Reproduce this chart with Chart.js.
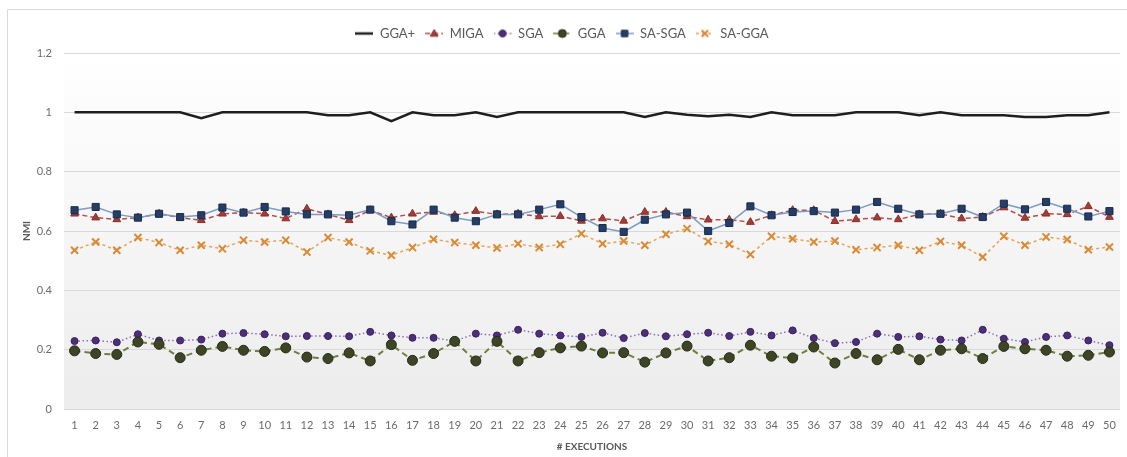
<!DOCTYPE html>
<html>
<head>
<meta charset="utf-8">
<script src="https://cdn.jsdelivr.net/npm/chart.js@4.4.1/dist/chart.umd.min.js"></script>
<style>
  html, body { margin: 0; padding: 0; background: #ffffff; }
  #wrap { width: 1127px; height: 457px; }
</style>
</head>
<body>
<div id="wrap"><canvas id="c" width="1127" height="457"></canvas></div>
<script>
const executions = Array.from({length: 50}, (_, i) => String(i + 1));
const yTicks = [0, 0.2, 0.4, 0.6, 0.8, 1, 1.2];

const ggaPlus = [1.0,1.0,1.0,1.0,1.0,1.0,0.98,1.0,1.0,1.0,
                 1.0,1.0,0.99,0.99,1.0,0.97,1.0,0.99,0.99,1.0,
                 0.984,1.0,1.0,1.0,1.0,1.0,1.0,0.984,1.0,0.992,
                 0.987,0.992,0.984,1.0,0.99,0.99,0.99,1.0,1.0,1.0,
                 0.99,1.0,0.99,0.99,0.99,0.984,0.984,0.99,0.99,1.0];
const miga = [0.658,0.645,0.639,0.645,0.658,0.645,0.636,0.658,0.662,0.658,
              0.642,0.675,0.656,0.636,0.670,0.645,0.658,0.664,0.653,0.667,
              0.656,0.658,0.649,0.650,0.634,0.642,0.634,0.664,0.664,0.649,
              0.638,0.638,0.630,0.653,0.670,0.670,0.633,0.639,0.645,0.639,
              0.656,0.658,0.642,0.647,0.679,0.644,0.658,0.656,0.683,0.647];
const sga = [0.229,0.231,0.225,0.252,0.231,0.231,0.234,0.254,0.256,0.252,
             0.245,0.246,0.246,0.245,0.260,0.248,0.240,0.240,0.229,0.254,
             0.248,0.267,0.254,0.248,0.243,0.257,0.239,0.256,0.245,0.252,
             0.257,0.246,0.260,0.248,0.265,0.239,0.222,0.226,0.254,0.243,
             0.245,0.234,0.231,0.267,0.237,0.226,0.243,0.248,0.231,0.215];
const gga = [0.196,0.187,0.184,0.226,0.218,0.173,0.198,0.211,0.198,0.194,
             0.206,0.175,0.170,0.189,0.162,0.217,0.164,0.187,0.228,0.162,
             0.228,0.162,0.190,0.206,0.212,0.189,0.190,0.158,0.189,0.212,
             0.162,0.173,0.215,0.178,0.172,0.209,0.155,0.187,0.166,0.201,
             0.166,0.198,0.203,0.170,0.211,0.203,0.198,0.178,0.181,0.192];
const saSga = [0.670,0.681,0.656,0.645,0.658,0.647,0.653,0.679,0.662,0.681,
               0.666,0.656,0.656,0.653,0.672,0.633,0.622,0.672,0.645,0.633,
               0.656,0.656,0.672,0.690,0.647,0.610,0.597,0.638,0.656,0.662,
               0.600,0.627,0.683,0.653,0.664,0.667,0.662,0.672,0.698,0.675,
               0.656,0.658,0.675,0.647,0.692,0.673,0.698,0.675,0.649,0.667];
const saGga = [0.535,0.563,0.535,0.578,0.561,0.535,0.552,0.540,0.569,0.563,
               0.569,0.529,0.578,0.563,0.533,0.518,0.544,0.572,0.561,0.552,
               0.543,0.557,0.544,0.555,0.591,0.557,0.566,0.552,0.589,0.608,
               0.565,0.555,0.521,0.582,0.574,0.563,0.566,0.537,0.544,0.552,
               0.535,0.565,0.552,0.512,0.582,0.552,0.580,0.571,0.537,0.546];

const FONT = "Lato, 'Open Sans', sans-serif";

const framePlugin = {
  id: 'frame',
  beforeLayout(chart) {
    const lg = chart.legend;
    if (lg && !lg._fixedFit) {
      const orig = lg.fit.bind(lg);
      lg.fit = function () { orig(); this.height = 36; };
      lg._fixedFit = true;
    }
  },
  beforeDraw(chart) {
    const ctx = chart.ctx;
    const a = chart.chartArea;
    ctx.save();
    ctx.fillStyle = '#ffffff';
    ctx.fillRect(0, 0, chart.width, chart.height);
    ctx.strokeStyle = '#d9d9d9';
    ctx.lineWidth = 1;
    ctx.beginPath();
    ctx.moveTo(7.5, chart.height);
    ctx.lineTo(7.5, 9.5);
    ctx.lineTo(chart.width, 9.5);
    ctx.stroke();
    const g = ctx.createLinearGradient(0, a.top, 0, a.bottom);
    g.addColorStop(0, '#ffffff');
    g.addColorStop(1, '#ececec');
    ctx.fillStyle = g;
    ctx.fillRect(a.left, a.top, a.right - a.left, a.bottom - a.top);
    ctx.restore();
  }
};

const datasets = [
  { label: 'GGA+', data: ggaPlus, borderColor: '#1e1e1e', backgroundColor: '#1e1e1e',
    borderWidth: 2.5, pointRadius: 0, pointStyle: 'line', order: 6 },
  { label: 'MIGA', data: miga, borderColor: '#b4504b', backgroundColor: '#9c3a36',
    borderWidth: 1.5, borderDash: [5, 3], pointStyle: 'triangle', pointRadius: 4.5,
    pointBackgroundColor: '#a23c38', pointBorderColor: '#8a302c', pointBorderWidth: 1, order: 5 },
  { label: 'SGA', data: sga, borderColor: '#8a6fb4', backgroundColor: '#4b2f78',
    borderWidth: 1.5, borderDash: [1.5, 2.5], pointStyle: 'circle', pointRadius: 3.5,
    pointBackgroundColor: '#4b2f78', pointBorderColor: '#3a2260', pointBorderWidth: 1, order: 4 },
  { label: 'GGA', data: gga, borderColor: '#6f7d3e', backgroundColor: '#3d4526',
    borderWidth: 2, borderDash: [6, 4], pointStyle: 'circle', pointRadius: 5,
    pointBackgroundColor: '#3d4526', pointBorderColor: '#262c15', pointBorderWidth: 1, order: 3 },
  { label: 'SA-SGA', data: saSga, borderColor: '#7e9cc2', backgroundColor: '#263d66',
    borderWidth: 1.5, pointStyle: 'rect', pointRadius: 5,
    pointBackgroundColor: '#263d66', pointBorderColor: '#1a2b4a', pointBorderWidth: 1, order: 2 },
  { label: 'SA-GGA', data: saGga, borderColor: '#e6a35a', backgroundColor: '#e0953f',
    borderWidth: 1.5, borderDash: [3, 3], pointStyle: 'crossRot', pointRadius: 5,
    pointBackgroundColor: '#e0953f', pointBorderColor: '#d98a35', pointBorderWidth: 2, order: 1 }
];

// Small legend swatches: the series' line style with its marker in the middle.
function legendSwatch(ds) {
  const w = 18, h = 12;
  const cv = document.createElement('canvas');
  cv.width = w; cv.height = h;
  const c = cv.getContext('2d');
  c.strokeStyle = ds.borderColor;
  c.lineWidth = ds.pointStyle === 'line' ? 2.5 : 1.5;
  c.setLineDash(ds.pointStyle === 'line' ? [] : (ds.borderDash || []));
  c.beginPath();
  c.moveTo(0, h / 2);
  c.lineTo(w, h / 2);
  c.stroke();
  c.setLineDash([]);
  if (ds.pointStyle !== 'line') {
    c.fillStyle = ds.pointBackgroundColor;
    c.strokeStyle = ds.pointBorderColor;
    c.lineWidth = ds.pointBorderWidth;
    c.beginPath();
    const r = Math.min(ds.pointRadius, 4);
    const x = w / 2, y = h / 2;
    if (ds.pointStyle === 'circle') { c.arc(x, y, r, 0, Math.PI * 2); c.fill(); c.stroke(); }
    else if (ds.pointStyle === 'rect') { c.rect(x - r * 0.8, y - r * 0.8, r * 1.6, r * 1.6); c.fill(); c.stroke(); }
    else if (ds.pointStyle === 'triangle') { c.moveTo(x, y - r); c.lineTo(x + r, y + r * 0.7); c.lineTo(x - r, y + r * 0.7); c.closePath(); c.fill(); c.stroke(); }
    else if (ds.pointStyle === 'crossRot') { c.moveTo(x - r * 0.8, y - r * 0.8); c.lineTo(x + r * 0.8, y + r * 0.8); c.moveTo(x + r * 0.8, y - r * 0.8); c.lineTo(x - r * 0.8, y + r * 0.8); c.stroke(); }
  }
  return cv;
}

new Chart(document.getElementById('c'), {
  type: 'line',
  data: { labels: executions, datasets },
  plugins: [framePlugin],
  options: {
    responsive: false,
    animation: false,
    devicePixelRatio: 1,
    layout: { padding: { left: 0, right: 3, top: 17, bottom: 0 } },
    plugins: {
      tooltip: { enabled: false },
      legend: {
        position: 'top',
        align: 'center',
        labels: {
          font: { family: FONT, size: 13 },
          color: '#595959',
          usePointStyle: true,
          pointStyleWidth: 18,
          boxHeight: 8,
          padding: 10,
          generateLabels(chart) {
            return chart.data.datasets.map((ds, i) => ({
              text: ds.label,
              fillStyle: ds.pointBackgroundColor || ds.borderColor,
              strokeStyle: ds.pointBorderColor || ds.borderColor,
              lineWidth: 0,
              pointStyle: legendSwatch(ds),
              fontColor: '#595959',
              hidden: false,
              datasetIndex: i
            }));
          }
        }
      }
    },
    scales: {
      x: {
        type: 'category',
        offset: true,
        grid: { display: false, drawTicks: false },
        border: { display: false },
        ticks: { font: { family: FONT, size: 11 }, color: '#6b6b6b', padding: 10,
                 maxRotation: 0, autoSkip: false },
        title: { display: true, text: '# EXECUTIONS', color: '#595959',
                 font: { family: FONT, size: 10, weight: 'bold' }, padding: { top: 4, bottom: 4 } },
        afterFit(scale) { scale.height = 48; }
      },
      y: {
        min: 0,
        max: 1.2,
        afterBuildTicks(scale) { scale.ticks = yTicks.map(v => ({ value: v })); },
        grid: { color: '#d9d9d9', drawTicks: false, lineWidth: 1 },
        border: { display: false },
        ticks: { font: { family: FONT, size: 11 }, color: '#6b6b6b', padding: 12,
                 callback: v => String(+Number(v).toFixed(1)) },
        title: { display: true, text: 'NMI', color: '#595959',
                 font: { family: FONT, size: 10, weight: 'bold' }, padding: { top: 21, bottom: 0 } },
        afterFit(scale) { scale.width = 64; }
      }
    }
  }
});
</script>
</body>
</html>
